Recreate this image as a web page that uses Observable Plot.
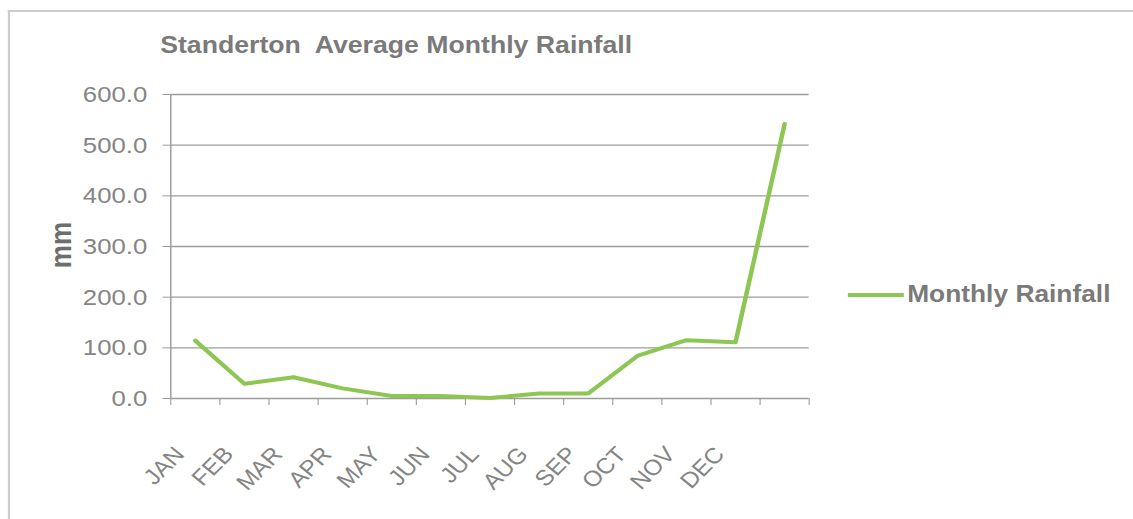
<!DOCTYPE html>
<html>
<head>
<meta charset="utf-8">
<script src="https://cdn.jsdelivr.net/npm/d3@7"></script>
<script src="https://cdn.jsdelivr.net/npm/@observablehq/plot@0.6"></script>
<style>
  html, body { margin: 0; padding: 0; background: #fff; overflow: hidden; }
  #stage {
    position: absolute; left: 0; top: 0;
    width: 1012px; height: 519px;
    transform: scaleX(1.12); transform-origin: 0 0;
    font-family: "Liberation Sans", Arial, sans-serif;
  }
  #frame {
    position: absolute; left: 7px; top: 10px; right: 0; bottom: 0;
    border-top: 2px solid #cdcdcd; border-left: 2px solid #cdcdcd;
  }
  #title {
    position: absolute; left: 143px; top: 33px;
    font-size: 23.8px; line-height: 1; font-weight: bold; color: #7a7a7a;
    white-space: pre;
  }
  #ylabel {
    position: absolute; left: 54px; top: 245px;
    transform: translate(-50%, -50%) rotate(-90deg);
    font-size: 26px; line-height: 1; font-weight: bold; color: #6e6e6e;
  }
  #legend {
    position: absolute; left: 757px; top: 283px;
    display: flex; align-items: center;
    font-size: 23.5px; line-height: 1; font-weight: bold; color: #7a7a7a;
  }
  #legend .swatch { width: 50px; height: 4px; background: #8dc653; margin-right: 3px; }
  #plot { position: absolute; left: 0; top: 0; }
</style>
</head>
<body>
<div id="stage">
  <div id="frame"></div>
  <div id="plot"></div>
  <div id="title">Standerton  Average Monthly Rainfall</div>
  <div id="ylabel">mm</div>
  <div id="legend"><span class="swatch"></span><span>Monthly Rainfall</span></div>
</div>
<script>
// Average monthly rainfall at Standerton (mm), followed by the yearly total
const categories = ["JAN", "FEB", "MAR", "APR", "MAY", "JUN", "JUL", "AUG", "SEP", "OCT", "NOV", "DEC", "TOTAL"];
const tickLabels = ["JAN", "FEB", "MAR", "APR", "MAY", "JUN", "JUL", "AUG", "SEP", "OCT", "NOV", "DEC", ""];
const rainfall = [114, 29, 42, 20, 5, 5, 1, 10, 10, 84, 115, 111, 542];
const yTicks = [0, 100, 200, 300, 400, 500, 600];

const lineColor = "#8dc653";
const gridColor = "#9c9c9c";
const textColor = "#858585";

const n = categories.length;
const data = categories.map((c, i) => ({category: c, pos: i + 0.5, value: rainfall[i]}));

const chart = Plot.plot({
  width: 1012,
  height: 519,
  marginLeft: 152,
  marginRight: 290,
  marginTop: 94,
  marginBottom: 121,
  style: {fontFamily: "'Liberation Sans', Arial, sans-serif", background: "transparent"},
  x: {domain: [0, n], axis: null},
  y: {domain: [0, 600], axis: null},
  marks: [
    Plot.gridY(yTicks, {stroke: gridColor, strokeOpacity: 1, strokeWidth: 1.3}),
    Plot.ruleX([0], {y1: 0, y2: 600, stroke: gridColor, strokeWidth: 1.3}),
    Plot.axisY({
      ticks: yTicks, tickSize: 7, tickPadding: 14, label: null,
      tickFormat: d3.format(".1f"), fontSize: 23, letterSpacing: "1.5px",
      stroke: gridColor, fill: textColor
    }),
    Plot.axisX({
      ticks: d3.range(n + 1), tickSize: 7, label: null,
      tickFormat: () => "", stroke: gridColor
    }),
    Plot.axisX({
      ticks: data.map(d => d.pos), tickSize: 0, tickPadding: 52, tickRotate: -48,
      dx: -14, label: null, fontSize: 22, fill: textColor,
      tickFormat: p => tickLabels[Math.floor(p)]
    }),
    Plot.line(data, {x: "pos", y: "value", stroke: lineColor, strokeWidth: 4, strokeLinejoin: "round"})
  ]
});
document.getElementById("plot").appendChild(chart);
</script>
</body>
</html>
